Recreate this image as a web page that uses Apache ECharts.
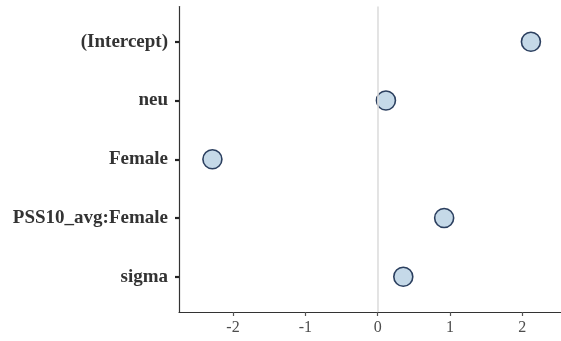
<!DOCTYPE html>
<html>
<head>
<meta charset="utf-8">
<style>
  html, body { margin: 0; padding: 0; background: #ffffff; }
  #chart { width: 561px; height: 341px; }
</style>
<script src="https://cdn.jsdelivr.net/npm/echarts@6/dist/echarts.min.js"></script>
</head>
<body>
<div id="chart"></div>
<script>
// Coefficient names, top to bottom
const terms = ['(Intercept)', 'neu', 'Female', 'PSS10_avg:Female', 'sigma'];
// Point estimates for each term
const estimates = [2.12, 0.115, -2.285, 0.92, 0.355];
// Horizontal axis tick values
const xTicks = [-2, -1, 0, 1, 2];

const positions = terms.map((t, i) => i + 1);
const points = estimates.map((v, i) => [v, positions[i]]);

const chart = echarts.init(document.getElementById('chart'), null, { renderer: 'canvas' });

chart.setOption({
  animation: false,
  backgroundColor: '#ffffff',
  grid: { left: 179, right: 0, top: 6.5, bottom: 29 },
  xAxis: {
    type: 'value',
    min: -2.747,
    max: 2.536,
    axisLine: { show: true, onZero: false, lineStyle: { color: '#333333', width: 1.2 } },
    axisTick: { show: true, customValues: xTicks, length: 4, lineStyle: { color: '#555555', width: 1.2 } },
    axisLabel: {
      customValues: xTicks,
      fontFamily: 'Liberation Serif',
      fontSize: 16,
      color: '#4d4d4d',
      margin: 8
    },
    splitLine: { show: false }
  },
  yAxis: {
    type: 'value',
    inverse: true,
    min: 0.4,
    max: 5.6,
    axisLine: { show: true, onZero: false, lineStyle: { color: '#333333', width: 1.2 } },
    axisTick: { show: true, customValues: positions, length: 4, lineStyle: { color: '#222222', width: 2.2 } },
    axisLabel: {
      customValues: positions,
      formatter: v => terms[Math.round(v) - 1] || '',
      fontFamily: 'Liberation Serif',
      fontWeight: 'bold',
      fontSize: 19,
      color: '#333333',
      margin: 11
    },
    splitLine: { show: false }
  },
  series: [
    {
      // reference line at zero
      type: 'scatter',
      data: [],
      z: 1,
      markLine: {
        silent: true,
        symbol: 'none',
        label: { show: false },
        lineStyle: { color: '#dddddd', width: 1.6, type: 'solid' },
        data: [{ xAxis: 0 }]
      }
    },
    {
      type: 'scatter',
      z: 3,
      data: points,
      symbol: 'circle',
      symbolSize: 19,
      itemStyle: {
        color: '#c5d9e8',
        borderColor: '#2b3f5f',
        borderWidth: 1.6,
        opacity: 1
      }
    }
  ]
});
</script>
</body>
</html>
